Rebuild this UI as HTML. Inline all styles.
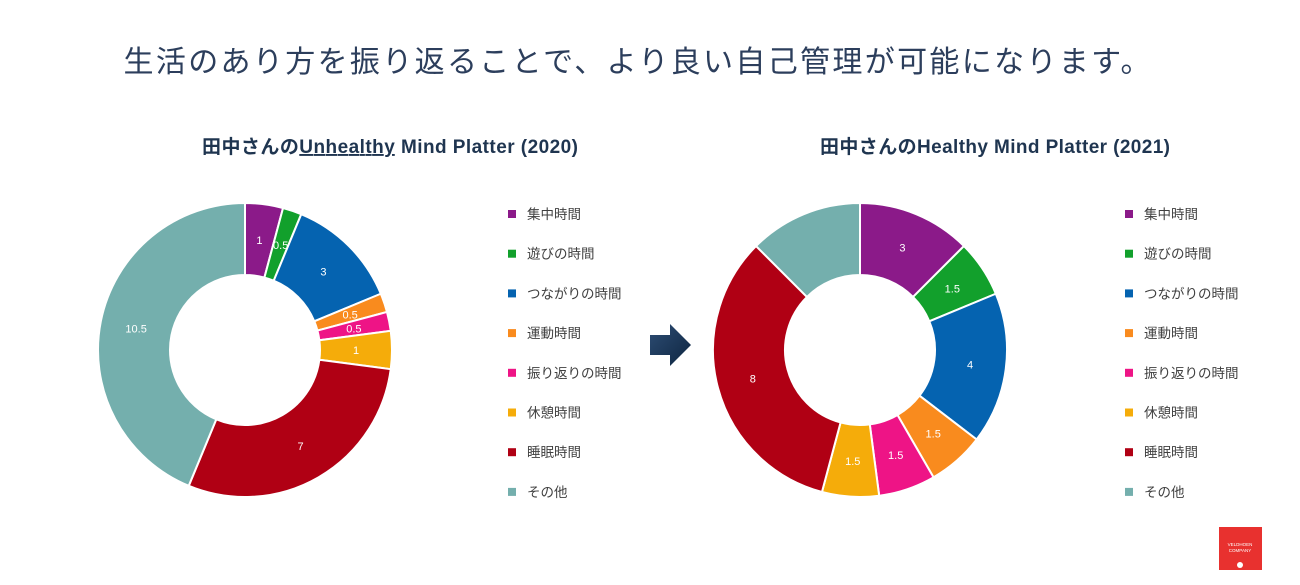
<!DOCTYPE html>
<html><head><meta charset="utf-8"><style>
body{margin:0;width:1300px;height:585px;background:#fff;overflow:hidden;font-family:"Liberation Sans","Noto Sans CJK JP",sans-serif;}
</style></head><body>
<svg id="s" width="1300" height="585" xmlns="http://www.w3.org/2000/svg" style="position:absolute;left:0;top:0">
<text x="637" y="72" text-anchor="middle" font-size="30" fill="#2c3e5c" font-family="'Noto Sans CJK JP',sans-serif" textLength="1027">生活のあり方を振り返ることで、より良い自己管理が可能になります。</text>
<text x="390" y="153" text-anchor="middle" font-size="19" font-weight="bold" fill="#1f3550" font-family="'Liberation Sans','Noto Sans CJK JP',sans-serif" textLength="376">田中さんの<tspan text-decoration="underline">Unhealthy</tspan> Mind Platter (2020)</text>
<text x="995" y="153" text-anchor="middle" font-size="19" font-weight="bold" fill="#1f3550" font-family="'Liberation Sans','Noto Sans CJK JP',sans-serif" textLength="350">田中さんのHealthy Mind Platter (2021)</text>
<defs><linearGradient id="g" x1="0" y1="0" x2="1" y2="1"><stop offset="0" stop-color="#2d4d74"/><stop offset="1" stop-color="#0e2540"/></linearGradient></defs>
<polygon points="650,335 670,335 670,324 691,345 670,366 670,355 650,355" fill="url(#g)"/>
<rect x="1219" y="527" width="43" height="43" fill="#e8312f"/>
<text x="1240" y="546" text-anchor="middle" font-size="4.5" fill="#fff">VELDHOEN</text>
<text x="1240" y="552" text-anchor="middle" font-size="4.5" fill="#fff">COMPANY</text>
<circle cx="1240" cy="565" r="3" fill="#fff"/>
<g id="c"></g>
</svg>
<script>
var cols=["#8b1a89","#12a02c","#0563b0","#f98b1e","#ee1486","#f5ac0a","#b00014","#74afad"];
var names=["集中時間","遊びの時間","つながりの時間","運動時間","振り返りの時間","休憩時間","睡眠時間","その他"];
function donut(cx,cy,vals,labs,lx){
 var R=147,r=75,tot=vals.reduce((a,b)=>a+b),a=0,h="";
 vals.forEach(function(v,i){
  var a0=a/tot*2*Math.PI,a1=(a+v)/tot*2*Math.PI;a+=v;
  var p=function(rr,t){return [cx+rr*Math.sin(t),cy-rr*Math.cos(t)]};
  var A=p(R,a0),B=p(R,a1),C=p(r,a1),D=p(r,a0),lg=(a1-a0)>Math.PI?1:0;
  h+='<path d="M'+A+' A'+R+','+R+' 0 '+lg+' 1 '+B+' L'+C+' A'+r+','+r+' 0 '+lg+' 0 '+D+'Z" fill="'+cols[i]+'" stroke="#fff" stroke-width="2"/>';
  if(labs[i]){var m=p(111,(a0+a1)/2);h+='<text x="'+m[0]+'" y="'+(m[1]+4)+'" text-anchor="middle" font-size="11" fill="#fff">'+labs[i]+'</text>';}
 });
 names.forEach(function(n,i){var y=215+i*39.7;
  h+='<rect x="'+lx+'" y="'+(y-5)+'" width="8" height="8" fill="'+cols[i]+'"/><text x="'+(lx+19)+'" y="'+(y+4)+'" font-size="13.5" fill="#404040">'+n+'</text>';});
 return h;
}
document.getElementById("c").innerHTML=
 donut(245,350,[1,0.5,3,0.5,0.5,1,7,10.5],["1","0.5","3","0.5","0.5","1","7","10.5"],508)+
 donut(860,350,[3,1.5,4,1.5,1.5,1.5,8,3],["3","1.5","4","1.5","1.5","1.5","8",""],1125);
</script>
</body></html>
